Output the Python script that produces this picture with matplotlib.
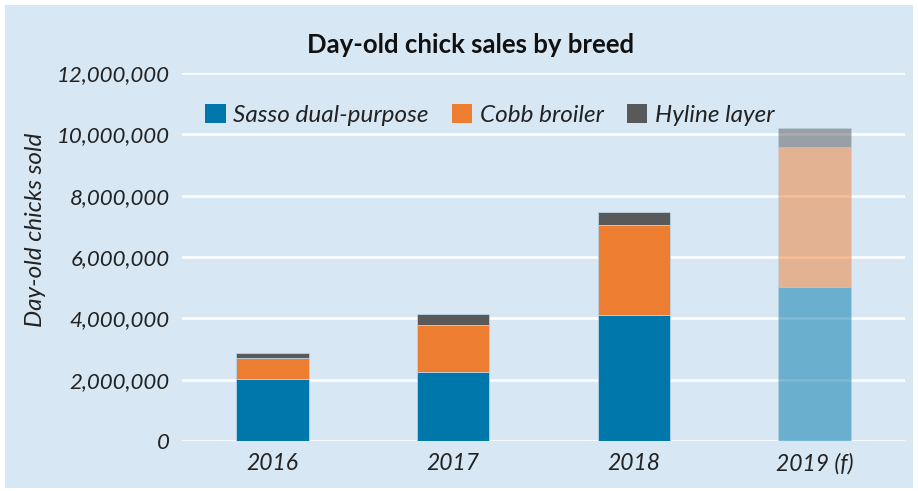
import matplotlib
matplotlib.use("Agg")
import matplotlib.pyplot as plt
from matplotlib.patches import Rectangle, Patch
from matplotlib.ticker import FuncFormatter

years = ["2016", "2017", "2018", "2019 (f)"]
sasso = [2030000, 2260000, 4110000, 5010000]
cobb = [680000, 1520000, 2930000, 4580000]
hyline = [170000, 360000, 440000, 610000]
forecast = [False, False, False, True]

series_names = ["Sasso dual-purpose", "Cobb broiler", "Hyline layer"]
colors = ["#0077aa", "#ed7d31", "#595959"]
bg = "#d7e8f4"

plt.rcParams['font.family'] = ['Lato', 'DejaVu Sans']

fig = plt.figure(figsize=(9.18, 4.91), dpi=100)
fig.patch.set_facecolor("white")
fig.patches.append(Rectangle((5 / 918, 3 / 491), 908 / 918, 483 / 491,
                             transform=fig.transFigure, facecolor=bg,
                             edgecolor="none", zorder=-10))

ax = fig.add_axes([182 / 918, 1 - 441 / 491, 723 / 918, 368 / 491])
ax.set_zorder(1)
ax.patch.set_alpha(0)

# stacked bars, forecast year drawn faded
x = list(range(len(years)))
bottom = [0] * len(years)
for vals, col in zip([sasso, cobb, hyline], colors):
    for i in x:
        ax.bar(i, vals[i], bottom=bottom[i], width=0.4, color=col,
               alpha=0.5 if forecast[i] else 1.0,
               edgecolor="#b9d3e6", linewidth=0.6, zorder=3)
        bottom[i] += vals[i]

ax.set_xlim(-0.5, len(years) - 0.5)
ax.set_ylim(0, 12000000)
ax.set_yticks(range(0, 12000001, 2000000))
ax.yaxis.set_major_formatter(FuncFormatter(lambda v, p: f"{int(v):,}"))
ax.set_xticks(x)
ax.set_xticklabels(years)
ax.grid(axis="y", color="white", linewidth=1.9, zorder=1)
ax.set_axisbelow(True)
for s in ax.spines.values():
    s.set_visible(False)
ax.tick_params(length=0, labelcolor="#222222")
ax.tick_params(axis="y", pad=9, labelsize=16)
ax.tick_params(axis="x", pad=9, labelsize=16.5)
for lab in ax.get_xticklabels() + ax.get_yticklabels():
    lab.set_style("italic")

ax.set_ylabel("Day-old chicks sold", fontsize=17.5, style="italic",
              color="#222222")
ax.yaxis.set_label_coords(-0.188, 0.575)

fig.text(0.513, 1 - 45 / 491, "Day-old chick sales by breed", ha="center",
         va="center", fontsize=18.5, fontweight="bold", color="#111111")

handles = [Patch(facecolor=c, edgecolor="none") for c in colors]
leg = ax.legend(handles, series_names, loc="center left",
                bbox_to_anchor=(0.032, 0.886), ncol=3, frameon=False,
                borderpad=0, borderaxespad=0,
                handlelength=0.85, handleheight=0.85, handletextpad=0.3,
                columnspacing=0.95,
                prop={"size": 17.5, "style": "italic"})
for t in leg.get_texts():
    t.set_color("#222222")

fig.savefig("out.png", dpi=100)
